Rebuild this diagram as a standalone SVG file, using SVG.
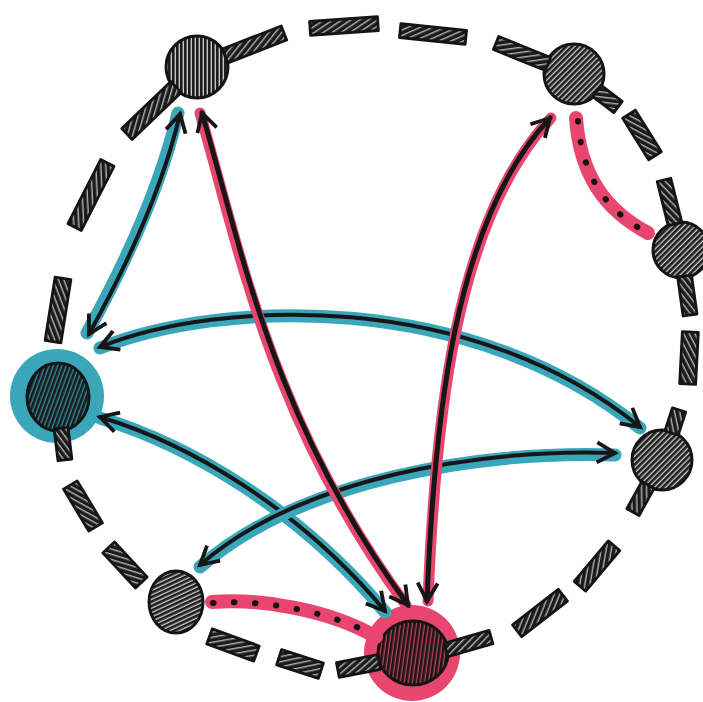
<svg xmlns="http://www.w3.org/2000/svg" width="703" height="702" viewBox="0 0 703 702">
<style>
.node{stroke:#141414;stroke-width:3}
.dash{fill:url(#hd);stroke:#141414;stroke-width:2.8;stroke-linejoin:round}
.teal{fill:none;stroke:#39a6b9;stroke-width:13;stroke-linecap:round}
.pink{fill:none;stroke:#e8466f;stroke-width:11;stroke-linecap:round}
.ink{fill:none;stroke:#161616;stroke-width:4;stroke-linecap:round;marker-start:url(#ah);marker-end:url(#ah)}
.inkP{fill:none;stroke:#161616;stroke-width:5;stroke-linecap:round;marker-start:url(#ah);marker-end:url(#ah)}
.dotband{fill:none;stroke:#e8466f;stroke-width:14;stroke-linecap:round}
.dots{fill:none;stroke:#141414;stroke-width:6;stroke-linecap:round;stroke-dasharray:0.5 20.5}
</style>
<defs>
<pattern id="hv" width="4" height="4" patternUnits="userSpaceOnUse"><rect width="4" height="4" fill="#1c1c1c"/><rect x="2.7" width="1.1" height="4" fill="#f4f4f4"/></pattern>
<pattern id="hd" width="5" height="5" patternUnits="userSpaceOnUse" patternTransform="rotate(60)"><rect width="5" height="5" fill="#1a1a1a"/><rect x="3.3" width="1" height="5" fill="#eeeeee"/></pattern>
<pattern id="hs" width="4" height="4" patternUnits="userSpaceOnUse" patternTransform="rotate(45)"><rect width="4" height="4" fill="#1c1c1c"/><rect x="2.7" width="1.1" height="4" fill="#f4f4f4"/></pattern>
<pattern id="hf" width="4" height="4" patternUnits="userSpaceOnUse" patternTransform="rotate(65)"><rect width="4" height="4" fill="#1c1c1c"/><rect x="2.7" width="1.1" height="4" fill="#f4f4f4"/></pattern>
<pattern id="hT" width="4" height="4" patternUnits="userSpaceOnUse" patternTransform="rotate(20)"><rect width="4" height="4" fill="#161a1c"/><rect x="2.7" width="1.1" height="4" fill="#3aa0b2"/></pattern>
<pattern id="hP" width="4" height="4" patternUnits="userSpaceOnUse" patternTransform="rotate(8)"><rect width="4" height="4" fill="#1c1416"/><rect x="2.7" width="1.1" height="4" fill="#d9486e"/></pattern>
<marker id="ah" viewBox="-22 -13 26 26" refX="0" refY="0" markerWidth="26" markerHeight="26" markerUnits="userSpaceOnUse" orient="auto-start-reverse">
<path d="M -18 -10 L 0 0 L -18 10" fill="none" stroke="#161616" stroke-width="3.8" stroke-linejoin="miter"/>
</marker>
</defs>
<rect width="703" height="702" fill="#ffffff"/>

<g id="node-top-left"><circle class="node" cx="197" cy="67" r="31" fill="url(#hv)"/></g>
<g id="node-top-right"><circle class="node" cx="574" cy="74" r="30" fill="url(#hs)"/></g>
<g id="node-right-upper"><circle class="node" cx="681" cy="250" r="28" fill="url(#hs)"/></g>
<g id="node-left"><circle cx="57" cy="396" r="47" fill="#39a6b9"/><ellipse class="node" cx="58" cy="397" rx="31" ry="34" fill="url(#hT)"/></g>
<g id="node-right-mid"><circle class="node" cx="662" cy="460" r="30" fill="url(#hs)"/></g>
<g id="node-bottom-left"><ellipse class="node" cx="176" cy="602" rx="27" ry="31" fill="url(#hf)"/></g>
<g id="node-bottom"><circle cx="412" cy="653" r="48" fill="#e8466f"/><ellipse class="node" cx="413" cy="653" rx="35" ry="32" fill="url(#hP)"/></g>

<g id="ring">
<rect class="dash" x="-31.6" y="-7.5" width="63.2" height="15" transform="translate(254.5 44.5) rotate(-21.3)"/>
<rect class="dash" x="-34" y="-7" width="68" height="14" transform="translate(344 26) rotate(-4)"/>
<rect class="dash" x="-33" y="-7" width="66" height="14" transform="translate(433 34) rotate(6)"/>
<rect class="dash" x="-28" y="-7" width="56" height="14" transform="translate(522 53.5) rotate(22)"/>
<rect class="dash" x="-13.2" y="-7" width="26.4" height="14" transform="translate(607.5 99) rotate(37)"/>
<rect class="dash" x="-24.5" y="-7.5" width="49" height="15" transform="translate(642 135) rotate(58)"/>
<rect class="dash" x="-22.7" y="-7" width="45.4" height="14" transform="translate(669.5 202) rotate(76)"/>
<rect class="dash" x="-19.7" y="-7" width="39.4" height="14" transform="translate(687.3 295.5) rotate(82)"/>
<rect class="dash" x="-26" y="-8" width="52" height="16" transform="translate(689 358) rotate(93)"/>
<rect class="dash" x="-12.1" y="-7" width="24.2" height="14" transform="translate(675.3 421.5) rotate(108)"/>
<rect class="dash" x="-15.5" y="-7" width="31" height="14" transform="translate(640.5 498.5) rotate(119)"/>
<rect class="dash" x="-26.5" y="-7.5" width="53" height="15" transform="translate(597 566) rotate(130)"/>
<rect class="dash" x="-29" y="-7.5" width="58" height="15" transform="translate(540 613) rotate(142)"/>
<rect class="dash" x="-23.4" y="-7" width="46.8" height="14" transform="translate(468.5 643.5) rotate(-16)"/>
<rect class="dash" x="-21" y="-7.5" width="42" height="15" transform="translate(358.5 666) rotate(-11)"/>
<rect class="dash" x="-22" y="-8" width="44" height="16" transform="translate(300 664) rotate(18)"/>
<rect class="dash" x="-25" y="-8" width="50" height="16" transform="translate(233 645) rotate(20)"/>
<rect class="dash" x="-24" y="-8" width="48" height="16" transform="translate(125 565) rotate(47)"/>
<rect class="dash" x="-24.5" y="-8" width="49" height="16" transform="translate(83 506) rotate(59)"/>
<rect class="dash" x="-16" y="-7" width="32" height="14" transform="translate(63 444) rotate(83)"/>
<rect class="dash" x="-32" y="-8" width="64" height="16" transform="translate(58 310) rotate(99)"/>
<rect class="dash" x="-36" y="-7.5" width="72" height="15" transform="translate(91 195) rotate(117)"/>
<rect class="dash" x="-34" y="-7.5" width="68" height="15" transform="translate(151.5 110.5) rotate(-43.8)"/>
</g>

<g id="connectors">
<path class="dotband" d="M 576 118 C 580 175 605 210 648 233"/>
<path class="dots" d="M 578 121 C 582 175 605 210 646 232"/>
<path class="dotband" d="M 212 602 C 260 598 330 610 376 637"/>
<path class="dots" d="M 213 603 C 260 599 330 611 375 636"/>

<path class="teal" d="M 178 113 Q 155 210 87 333"/>
<path class="ink" transform="translate(2 1)" d="M 178 113 Q 155 210 87 333"/>

<path class="teal" d="M 100 348 C 220 300 470 290 640 428"/>
<path class="ink" transform="translate(0 -1)" d="M 100 348 C 220 300 470 290 640 428"/>

<path class="teal" d="M 100 418 C 190 445 300 510 385 612"/>
<path class="ink" transform="translate(0 -1)" d="M 100 418 C 190 445 300 510 385 612"/>

<path class="teal" d="M 615 455 C 480 450 300 480 200 567"/>
<path class="ink" transform="translate(0 -2)" d="M 615 455 C 480 450 300 480 200 567"/>

<path class="pink" d="M 200 113 C 240 250 270 420 406 605"/>
<path class="inkP" transform="translate(2 0)" d="M 200 113 C 240 250 270 420 406 605"/>

<path class="pink" d="M 428 601 C 435 420 455 220 551 118"/>
<path class="inkP" transform="translate(-1 0)" d="M 428 601 C 435 420 455 220 551 118"/>
</g>
</svg>
